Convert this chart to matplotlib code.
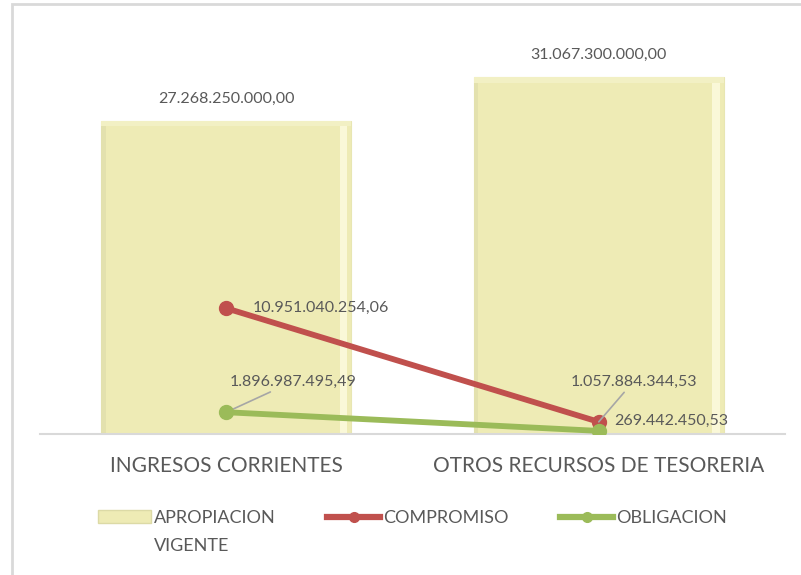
import numpy as np
import matplotlib.pyplot as plt
from matplotlib.patches import Rectangle
from matplotlib.lines import Line2D

categories = ['INGRESOS CORRIENTES', 'OTROS RECURSOS DE TESORERIA']
apropiacion = [27268250000.00, 31067300000.00]
compromiso = [10951040254.06, 1057884344.53]
obligacion = [1896987495.49, 269442450.53]

apro_labels = ['27.268.250.000,00', '31.067.300.000,00']
comp_labels = ['10.951.040.254,06', '1.057.884.344,53']
obli_labels = ['1.896.987.495,49', '269.442.450,53']

plt.rcParams['font.family'] = ['Lato', 'DejaVu Sans']
txt = '#595959'
bar_c = '#EEEBB5'
red = '#C0504D'
green = '#9BBB59'

fig = plt.figure(figsize=(8.01, 5.75), dpi=100)
ax = fig.add_axes([40 / 801, 141 / 575, 745 / 801, 414 / 575])

x = np.arange(len(categories))
bw = 0.67
bars = ax.bar(x, apropiacion, width=bw, color=bar_c, edgecolor='#E8E6B2', linewidth=0.8, zorder=1)

# bevel strips on the bars
for b in bars:
    x0, w, h = b.get_x(), b.get_width(), b.get_height()
    ax.add_patch(Rectangle((x0 + w - 0.03, 0), 0.02, h * 0.985, color='#FAF8D8', lw=0, zorder=1.5))
    ax.add_patch(Rectangle((x0, 0), 0.012, h, color='#E3E1AE', lw=0, zorder=1.5))
    ax.add_patch(Rectangle((x0, h * 0.985), w, h * 0.015, color='#F2F0C4', lw=0, zorder=1.5))

ax.plot(x, compromiso, color=red, lw=4.2, marker='o', ms=10, zorder=3)
ax.plot(x, obligacion, color=green, lw=4.2, marker='o', ms=10, zorder=4)

# data labels
for i, v in enumerate(apropiacion):
    ax.annotate(apro_labels[i], (x[i], v), xytext=(0, 11), textcoords='offset points',
                ha='center', va='bottom', fontsize=11.5, color=txt)

ax.annotate(comp_labels[0], (x[0], compromiso[0]), xytext=(19, 0), textcoords='offset points',
            ha='left', va='center', fontsize=11.5, color=txt)
ax.annotate(obli_labels[0], (x[0], obligacion[0]), xytext=(48, 17), textcoords='offset points',
            ha='center', va='bottom', fontsize=11.5, color=txt,
            arrowprops=dict(arrowstyle='-', color='#A6A6A6', lw=1.2, shrinkA=1, shrinkB=0))
ax.annotate(comp_labels[1], (x[1], compromiso[1]), xytext=(25, 24), textcoords='offset points',
            ha='center', va='bottom', fontsize=11.5, color=txt,
            arrowprops=dict(arrowstyle='-', color='#A6A6A6', lw=1.2, shrinkA=1, shrinkB=0))
ax.annotate(obli_labels[1], (x[1], obligacion[1]), xytext=(11, 7), textcoords='offset points',
            ha='left', va='center', fontsize=11.5, color=txt)

ax.set_xlim(-0.5, 1.5)
ax.set_ylim(0, 36.06e9)
ax.set_xticks(x)
ax.set_xticklabels(categories, fontsize=15, color=txt)
ax.tick_params(axis='x', length=0, pad=16)
ax.set_yticks([])
for s in ['top', 'right', 'left']:
    ax.spines[s].set_visible(False)
ax.spines['bottom'].set_color('#D9D9D9')
ax.spines['bottom'].set_linewidth(1.5)
ax.patch.set_alpha(0)

handles = [Rectangle((0, 0), 1, 1, facecolor=bar_c, edgecolor='#DCDAA6'),
           Line2D([], [], color=red, lw=4.5, marker='o', ms=7),
           Line2D([], [], color=green, lw=4.5, marker='o', ms=7)]
leg = fig.legend(handles, ['APROPIACION', 'COMPROMISO', 'OBLIGACION'], ncol=3,
                 loc='center left', bbox_to_anchor=(82 / 801, 1 - 518 / 575), frameon=False,
                 fontsize=13, labelcolor=txt, handlelength=2.9, handletextpad=0.2,
                 columnspacing=2.85, handleheight=0.7)
# second line of the first legend label
fig.text(0, 0, 'VIGENTE', fontsize=13, color=txt)
fig.canvas.draw()
t0 = leg.get_texts()[0]
bb = t0.get_window_extent()
fig.texts[-1].set_position((bb.x0 / fig.bbox.width, (bb.y0 - 25) / fig.bbox.height))

# outer chart frame
fig.patches.append(Rectangle((12 / 801, -0.05), 1.1, 1.05 - 4 / 575, transform=fig.transFigure,
                             fill=False, edgecolor='#D9D9D9', lw=2, zorder=0))

fig.savefig('out.png', dpi=100)
